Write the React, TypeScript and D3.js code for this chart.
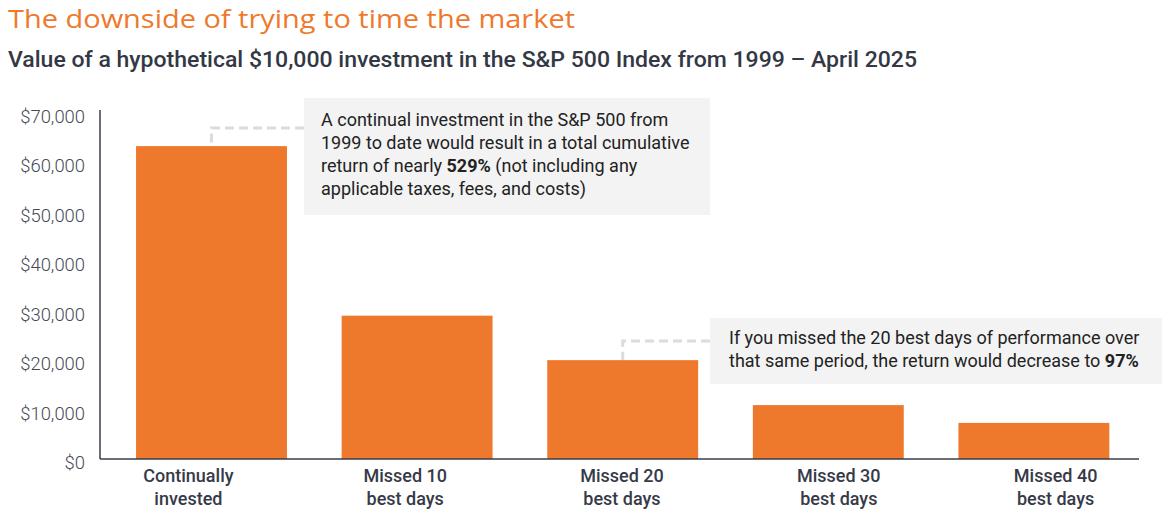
import React from "react";
import * as d3 from "d3";

const categories: string[][] = [
  ["Continually", "invested"],
  ["Missed 10", "best days"],
  ["Missed 20", "best days"],
  ["Missed 30", "best days"],
  ["Missed 40", "best days"],
];
const values: number[] = [63300, 29000, 20000, 10900, 7300];
const yTicks: number[] = [0, 10000, 20000, 30000, 40000, 50000, 60000, 70000];

const title = "The downside of trying to time the market";
const subtitle = "Value of a hypothetical $10,000 investment in the S&P 500 Index from 1999 – April 2025";

// each line: array of [text, bold]
const note1: [string, boolean][][] = [
  [["A continual investment in the S&P 500 from", false]],
  [["1999 to date would result in a total cumulative", false]],
  [["return of nearly ", false], ["529%", true], [" (not including any", false]],
  [["applicable taxes, fees, and costs)", false]],
];
const note2: [string, boolean][][] = [
  [["If you missed the 20 best days of performance over", false]],
  [["that same period, the return would decrease to ", false], ["97%", true]],
];

const W = 1166;
const H = 514;
const ORANGE = "#EE792C";

export default function App() {
  const keys = categories.map((c) => c.join(" "));
  const x = d3.scaleBand<string>().domain(keys).range([108.7, 1136.7]).paddingInner(0.266).paddingOuter(0.133);
  const xLabel = d3.scaleBand<string>().domain(keys).range([80, 1164]);
  const y = d3.scaleLinear().domain([0, 70000]).range([459, 113]);
  const fmt = (v: number) => "$" + d3.format(",")(v);

  const box1 = { x: 304, y: 98, w: 406, h: 117 };
  const box2 = { x: 710, y: 318, w: 452, h: 66 };

  const c0 = x(keys[0])! + x.bandwidth() / 2;
  const c2 = x(keys[2])! + x.bandwidth() / 2;

  const renderNote = (lines: [string, boolean][][], x0: number, y0: number) => (
    <text fontFamily="Roboto" fontSize={18} fill="#222">
      {lines.map((ln, i) => (
        <tspan key={i} x={x0} y={y0 + i * 23}>
          {ln.map(([t, b], j) => (
            <tspan key={j} fontWeight={b ? 700 : 400}>{t}</tspan>
          ))}
        </tspan>
      ))}
    </text>
  );

  return (
    <svg width={W} height={H} style={{ position: "absolute", left: 0, top: 0, background: "#fff" }}>
      <text x={8} y={28} fontFamily="'Open Sans'" fontWeight={400} fontSize={26} fill={ORANGE} textLength={567} lengthAdjust="spacingAndGlyphs">{title}</text>
      <text x={8} y={67} fontFamily="Roboto" fontWeight={500} fontSize={21.5} fill="#333844" textLength={909} lengthAdjust="spacingAndGlyphs">{subtitle}</text>

      {yTicks.map((t) => (
        <text key={t} x={85} y={y(t) + 10} textAnchor="end" fontFamily="Roboto" fontWeight={300} fontSize={18.4} fill="#454a57">
          {fmt(t)}
        </text>
      ))}

      {/* connectors */}
      <path d={`M${box1.x},128H${c0}V${y(values[0])}`} fill="none" stroke="#dcdcdc" strokeWidth={3} strokeDasharray="9,5" />
      <path d={`M${box2.x},341H${c2}V${y(values[2])}`} fill="none" stroke="#dcdcdc" strokeWidth={3} strokeDasharray="9,5" />

      {values.map((v, i) => (
        <rect key={i} x={x(keys[i])} y={y(v)} width={x.bandwidth()} height={y(0) - y(v)} fill={ORANGE} />
      ))}

      <line x1={100} x2={100} y1={110} y2={459} stroke="#3a3d4a" strokeWidth={1.5} />
      <line x1={100} x2={1139} y1={459} y2={459} stroke="#3a3d4a" strokeWidth={1.5} />

      {categories.map((c, i) => (
        <text key={i} textAnchor="middle" fontFamily="Roboto" fontWeight={500} fontSize={18} fill="#363a47">
          {c.map((l, j) => (
            <tspan key={j} x={xLabel(keys[i])! + xLabel.bandwidth() / 2} y={482 + j * 23}>{l}</tspan>
          ))}
        </text>
      ))}

      <rect x={box1.x} y={box1.y} width={box1.w} height={box1.h} fill="#f3f3f3" />
      {renderNote(note1, 321, 126)}
      <rect x={box2.x} y={box2.y} width={box2.w} height={box2.h} fill="#f3f3f3" />
      {renderNote(note2, 729, 344)}
    </svg>
  );
}
